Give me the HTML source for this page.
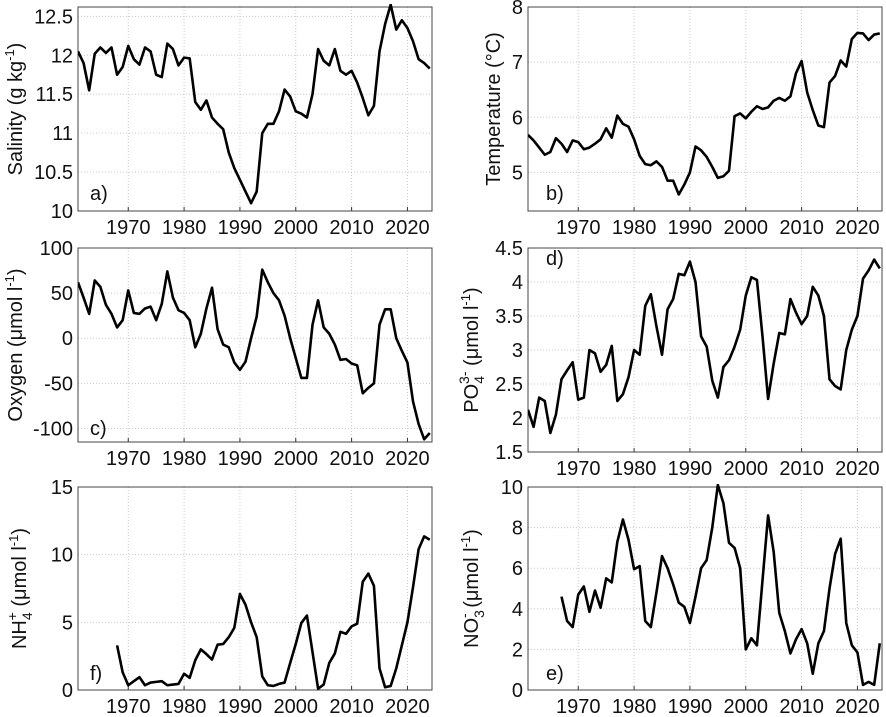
<!DOCTYPE html>
<html><head><meta charset="utf-8"><style>
html,body{margin:0;padding:0;background:#fff;}
svg{display:block;font-family:"Liberation Sans",Arial,sans-serif;}
</style></head><body>
<svg id="fig" width="886" height="717" viewBox="0 0 886 717" xmlns="http://www.w3.org/2000/svg"></svg>
<script>
const yearsFull = [];
for (let y = 1961; y <= 2024; y++) yearsFull.push(y);
const xTickYears = [1970, 1980, 1990, 2000, 2010, 2020];

const salinity = [12.05,11.9,11.55,12.02,12.1,12.03,12.1,11.75,11.85,12.12,11.95,11.88,12.1,12.05,11.75,11.72,12.15,12.08,11.87,11.97,11.96,11.4,11.3,11.42,11.2,11.12,11.05,10.75,10.55,10.4,10.25,10.1,10.25,11.0,11.12,11.12,11.28,11.56,11.47,11.28,11.25,11.2,11.5,12.08,11.93,11.87,12.08,11.8,11.75,11.8,11.65,11.45,11.23,11.35,12.05,12.4,12.65,12.33,12.45,12.35,12.18,11.95,11.9,11.83];
const temperature = [5.68,5.58,5.45,5.32,5.37,5.62,5.52,5.37,5.58,5.55,5.42,5.45,5.52,5.6,5.8,5.63,6.03,5.88,5.83,5.6,5.3,5.15,5.13,5.2,5.1,4.85,4.85,4.6,4.78,5.0,5.47,5.4,5.28,5.1,4.9,4.93,5.03,6.02,6.07,5.98,6.1,6.2,6.15,6.18,6.3,6.35,6.3,6.38,6.8,7.02,6.45,6.13,5.85,5.82,6.63,6.75,7.03,6.92,7.42,7.53,7.52,7.4,7.5,7.52];
const oxygen = [62,45,27,64,57,37,27,12,20,53,28,27,33,35,20,38,74,45,31,28,20,-10,5,33,56,10,-7,-10,-27,-35,-26,0,24,76,62,50,42,25,0,-22,-44,-44,15,42,12,5,-7,-24,-23,-28,-30,-61,-55,-50,15,32,32,0,-14,-27,-70,-95,-112,-105];
const phosphate = [2.12,1.87,2.3,2.25,1.78,2.05,2.57,2.7,2.82,2.27,2.3,3.0,2.95,2.68,2.78,3.06,2.25,2.35,2.6,3.0,2.93,3.65,3.82,3.35,2.93,3.6,3.75,4.12,4.1,4.3,4.0,3.2,3.05,2.55,2.3,2.75,2.85,3.05,3.3,3.8,4.07,4.03,3.2,2.28,2.8,3.25,3.23,3.75,3.55,3.38,3.5,3.93,3.8,3.5,2.57,2.47,2.42,3.0,3.3,3.5,4.05,4.17,4.33,4.2];
const ammoniumYears = [];
for (let y = 1968; y <= 2024; y++) ammoniumYears.push(y);
const ammonium = [3.3,1.3,0.35,0.65,0.95,0.35,0.55,0.6,0.65,0.35,0.4,0.45,1.2,0.9,2.2,3.0,2.65,2.25,3.35,3.4,3.9,4.6,7.1,6.3,5.0,3.9,1.0,0.35,0.3,0.45,0.55,2.0,3.4,4.95,5.5,2.8,0.1,0.4,2.0,2.7,4.3,4.15,4.7,4.9,8.0,8.6,7.7,1.6,0.2,0.3,1.6,3.3,5.0,7.6,10.4,11.35,11.1];
const nitrateYears = [];
for (let y = 1967; y <= 2024; y++) nitrateYears.push(y);
const nitrate = [4.6,3.4,3.1,4.7,5.1,3.85,4.9,4.05,5.5,5.3,7.3,8.4,7.4,5.95,6.1,3.4,3.1,4.8,6.6,6.0,5.2,4.3,4.1,3.3,4.6,6.0,6.4,8.0,10.1,9.2,7.25,7.0,6.0,2.0,2.55,2.2,5.4,8.6,6.8,3.8,2.9,1.8,2.5,3.0,2.3,0.8,2.3,2.9,5.0,6.7,7.45,3.3,2.2,1.85,0.25,0.4,0.25,2.3];

const salTicks = [10,10.5,11,11.5,12,12.5];
const tempTicks = [5,6,7,8];
const oxyTicks = [-100,-50,0,50,100];
const po4Ticks = [1.5,2,2.5,3,3.5,4,4.5];
const nh4Ticks = [0,5,10,15];
const no3Ticks = [0,2,4,6,8,10];

const NS = "http://www.w3.org/2000/svg";
const svg = document.getElementById('fig');
function mk(tag, attrs, parent) {
  const e = document.createElementNS(NS, tag);
  for (const k in attrs) e.setAttribute(k, attrs[k]);
  (parent || svg).appendChild(e);
  return e;
}
const FS = 20;
// label parts: [text, dy, dx, size]
const umol = [[' (\u03BCmol l',8,0,FS],['-1',-8,0,13],[')',8,0,FS]];
const panels = [
  {id:'salinity', x0:78, x1:432, y0:7, y1:211, ymin:10, ymax:12.62, years:yearsFull, vals:salinity, ticks:salTicks, letter:'a)', lx:90, ly:200, labX:22, label:[['Salinity (g kg',0,0,FS],['-1',-8,0,13],[')',8,0,FS]]},
  {id:'temperature', x0:528, x1:882, y0:7, y1:211, ymin:4.3, ymax:8, years:yearsFull, vals:temperature, ticks:tempTicks, letter:'b)', lx:546, ly:200, labX:500, label:[['Temperature (\u00B0C)',0,0,FS]]},
  {id:'oxygen', x0:78, x1:432, y0:248, y1:442, ymin:-115, ymax:100, years:yearsFull, vals:oxygen, ticks:oxyTicks, letter:'c)', lx:90, ly:435, labX:22, label:[['Oxygen (\u03BCmol l',0,0,FS],['-1',-8,0,13],[')',8,0,FS]]},
  {id:'phosphate', x0:528, x1:882, y0:248, y1:452, ymin:1.5, ymax:4.5, years:yearsFull, vals:phosphate, ticks:po4Ticks, letter:'d)', lx:546, ly:265, labX:478, label:[['PO',0,0,FS],['4',6,0,14],['3-',-15,-8,14],...umol.map((p,i)=>i===0?[p[0],9,p[2],p[3]]:p)]},
  {id:'ammonium', x0:78, x1:432, y0:487, y1:690, ymin:0, ymax:15, years:ammoniumYears, vals:ammonium, ticks:nh4Ticks, letter:'f)', lx:90, ly:680, labX:26, label:[['NH',0,0,FS],['4',6,0,14],['+',-15,-8,14],...umol.map((p,i)=>i===0?[p[0],9,p[2],p[3]]:p)]},
  {id:'nitrate', x0:528, x1:882, y0:487, y1:690, ymin:0, ymax:10, years:nitrateYears, vals:nitrate, ticks:no3Ticks, letter:'e)', lx:546, ly:680, labX:478, label:[['NO',0,0,FS],['3',6,0,14],['-',-15,-8,14],...umol.map((p,i)=>i===0?[p[0],9,p[2],p[3]]:p)]}
];
const XMIN = 1961, XMAX = 2024.4;

panels.forEach(p => {
  const g = mk('g', {});
  
  
  const sx = v => p.x0 + (v - XMIN) / (XMAX - XMIN) * (p.x1 - p.x0);
  const sy = v => p.y1 - (v - p.ymin) / (p.ymax - p.ymin) * (p.y1 - p.y0);
  xTickYears.forEach(yr => {
    const l = mk('line', {x1:sx(yr), x2:sx(yr), y1:p.y0, y2:p.y1, stroke:'#c8c8c8', 'stroke-width':1, 'stroke-dasharray':'1,2'}, g);
    
    
    const t = mk('line', {x1:sx(yr), x2:sx(yr), y1:p.y1, y2:p.y1-4, stroke:'#333', 'stroke-width':1}, g);
    
    
    const tl = mk('text', {x:sx(yr), y:p.y1 + 23, 'text-anchor':'middle', 'font-size':FS, fill:'#111'}, g);
    
    
    tl.textContent = yr;
  });
  p.ticks.forEach(v => {
    const y = sy(v);
    if (v !== p.ymin && v !== p.ymax) {
      const l = mk('line', {x1:p.x0, x2:p.x1, y1:y, y2:y, stroke:'#c8c8c8', 'stroke-width':1, 'stroke-dasharray':'1,2'}, g);
      
      
    }
    const t = mk('text', {x:p.x0-5, y:y+7, 'text-anchor':'end', 'font-size':FS, fill:'#111'}, g);
    
    
    t.textContent = v;
  });
  const frame = mk('rect', {x:p.x0, y:p.y0, width:p.x1-p.x0, height:p.y1-p.y0, fill:'none', stroke:'#444', 'stroke-width':1}, g);
  
  
  const cp = mk('clipPath', {id:'clip-'+p.id}, g);
  mk('rect', {x:p.x0, y:p.y0-3, width:p.x1-p.x0, height:p.y1-p.y0+3}, cp);
  const d = p.vals.map((v, i) => (i ? 'L' : 'M') + sx(p.years[i]).toFixed(2) + ',' + sy(v).toFixed(2)).join(' ');
  const path = mk('path', {d:d, fill:'none', stroke:'#000', 'stroke-width':2.6, 'stroke-linejoin':'round', 'clip-path':'url(#clip-'+p.id+')'}, g);
  
  
  const lt = mk('text', {x:p.lx, y:p.ly, 'font-size':FS, fill:'#111'}, g);
  
  
  lt.textContent = p.letter;
  const cy = (p.y0 + p.y1) / 2;
  const yl = mk('text', {x:0, y:0, 'font-size':FS, fill:'#111', 'text-anchor':'middle', transform:'translate('+p.labX+','+cy+') rotate(-90)'}, g);
  
  
  p.label.forEach(part => {
    const ts = mk('tspan', {'font-size':part[3]}, yl);
    if (part[1]) ts.setAttribute('dy', part[1]);
    if (part[2]) ts.setAttribute('dx', part[2]);
    ts.textContent = part[0];
  });
});
</script>
</body></html>
